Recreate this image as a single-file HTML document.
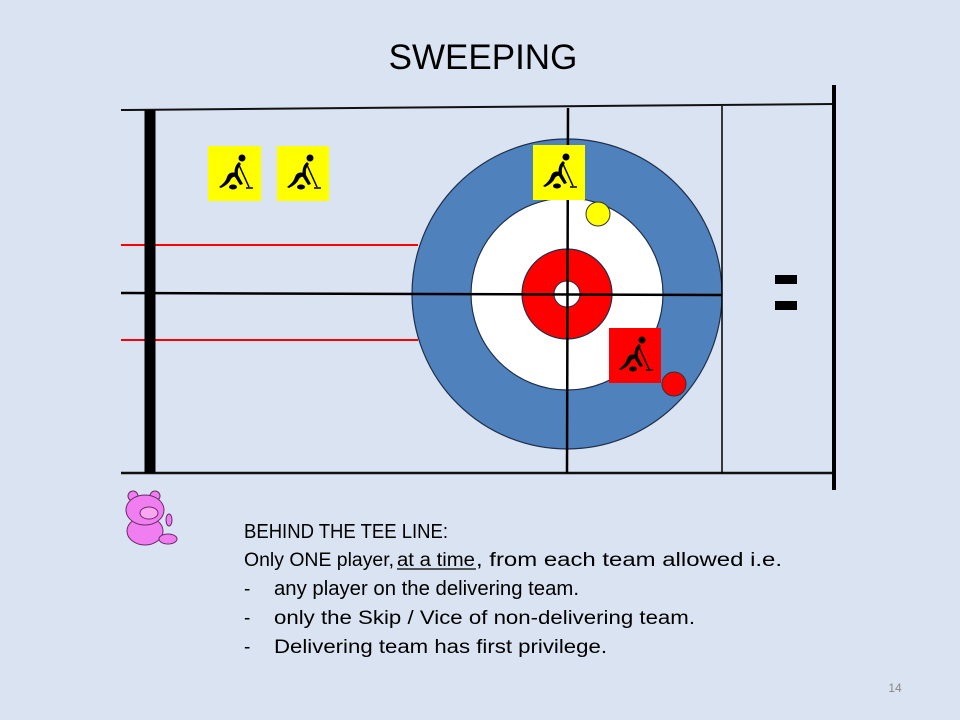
<!DOCTYPE html>
<html><head><meta charset="utf-8"><style>
body{margin:0;background:#dae3f1;}
svg{display:block}
text{font-family:"Liberation Sans",sans-serif;}
</style></head><body>
<svg width="960" height="720" viewBox="0 0 960 720">
<defs>
<g id="cur">
<circle cx="33" cy="11" r="3.5" fill="#000"/>
<path d="M30 15 Q24 20 26 30 L31 38 L34 37 L29 28 Q28 21 32 17 Z" fill="#000"/>
<path d="M27 26 Q20 24 18 30 Q17 35 10 40 L12 41 Q20 37 22 32 Q24 29 27 30 Z" fill="#000"/>
<line x1="30" y1="18" x2="40" y2="40" stroke="#000" stroke-width="1.5"/>
<line x1="37" y1="41" x2="44" y2="41" stroke="#000" stroke-width="1.5"/>
<ellipse cx="24" cy="40" rx="4" ry="2.5" fill="#000"/>
</g>
</defs>
<rect width="960" height="720" fill="#dae3f1"/>
<text x="483" y="69" font-size="35" text-anchor="middle" fill="#000">SWEEPING</text>
<circle cx="567" cy="294" r="155" fill="#4f81bd" stroke="#1f2f4a" stroke-width="1.2"/>
<circle cx="567" cy="294" r="96" fill="#fff" stroke="#1f2f4a" stroke-width="1.2"/>
<circle cx="567" cy="294" r="45" fill="#f00" stroke="#1f2f4a" stroke-width="1.2"/>
<circle cx="567" cy="294" r="13" fill="#fff" stroke="#1f2f4a" stroke-width="1"/>
<line x1="121" y1="110" x2="834" y2="104" stroke="#111" stroke-width="2"/>
<line x1="121" y1="473" x2="834" y2="473" stroke="#111" stroke-width="2.5"/>
<line x1="121" y1="245" x2="418" y2="245" stroke="#f00" stroke-width="2"/>
<line x1="121" y1="340" x2="418" y2="340" stroke="#f00" stroke-width="2"/>
<line x1="121" y1="293" x2="722" y2="295" stroke="#000" stroke-width="2.5"/>
<line x1="150" y1="110" x2="150" y2="473" stroke="#000" stroke-width="11"/>
<line x1="568" y1="108" x2="567" y2="473" stroke="#000" stroke-width="2.5"/>
<line x1="722" y1="106" x2="722" y2="473" stroke="#000" stroke-width="1.5"/>
<line x1="834" y1="85" x2="834" y2="490" stroke="#000" stroke-width="4"/>
<rect x="775" y="275" width="22" height="9" fill="#000"/>
<rect x="775" y="301" width="22" height="9" fill="#000"/>
<rect x="208" y="146" width="53" height="55" fill="#ff0"/><use href="#cur" x="209" y="147"/>
<rect x="277" y="146" width="52" height="55" fill="#ff0"/><use href="#cur" x="277" y="147"/>
<rect x="533" y="145" width="52" height="55" fill="#ff0"/><use href="#cur" x="533" y="146"/>
<rect x="609" y="328" width="52" height="55" fill="#f00"/><use href="#cur" x="609" y="329"/>
<circle cx="598" cy="214" r="12" fill="#ff0" stroke="#333" stroke-width="1"/>
<circle cx="674" cy="384" r="12" fill="#f00" stroke="#333" stroke-width="1"/>
<g stroke="#6a2a6a" stroke-width="1" fill="#f07ef0">
<circle cx="133" cy="496" r="5"/><circle cx="155" cy="496" r="5"/>
<ellipse cx="145" cy="531" rx="18" ry="14"/>
<ellipse cx="145" cy="510" rx="19" ry="15"/>
<ellipse cx="149" cy="513" rx="9" ry="6" fill="#f9a8f0"/>
<ellipse cx="168" cy="539" rx="9" ry="5"/>
<ellipse cx="169" cy="520" rx="3" ry="6"/>
</g>
<g font-size="19" fill="#000">
<text x="244" y="538" textLength="204" lengthAdjust="spacingAndGlyphs" font-size="20">BEHIND THE TEE LINE:</text>
<text x="244" y="566" textLength="150" lengthAdjust="spacingAndGlyphs">Only ONE player,</text>
<text x="397" y="566" textLength="78" lengthAdjust="spacingAndGlyphs">at a time</text>
<text x="476" y="566" textLength="306" lengthAdjust="spacingAndGlyphs">, from each team allowed i.e.</text>
<line x1="397" y1="569" x2="476" y2="569" stroke="#000" stroke-width="1.3"/>
<text x="244" y="595">-</text><text x="274" y="595" textLength="305" lengthAdjust="spacingAndGlyphs" font-size="20">any player on the delivering team.</text>
<text x="244" y="624">-</text><text x="274" y="624" textLength="421" lengthAdjust="spacingAndGlyphs">only the Skip / Vice of non-delivering team.</text>
<text x="244" y="653">-</text><text x="274" y="653" textLength="333" lengthAdjust="spacingAndGlyphs">Delivering team has first privilege.</text>
</g>
<text x="895" y="692" font-size="12" fill="#888" text-anchor="middle">14</text>
</svg>
</body></html>
